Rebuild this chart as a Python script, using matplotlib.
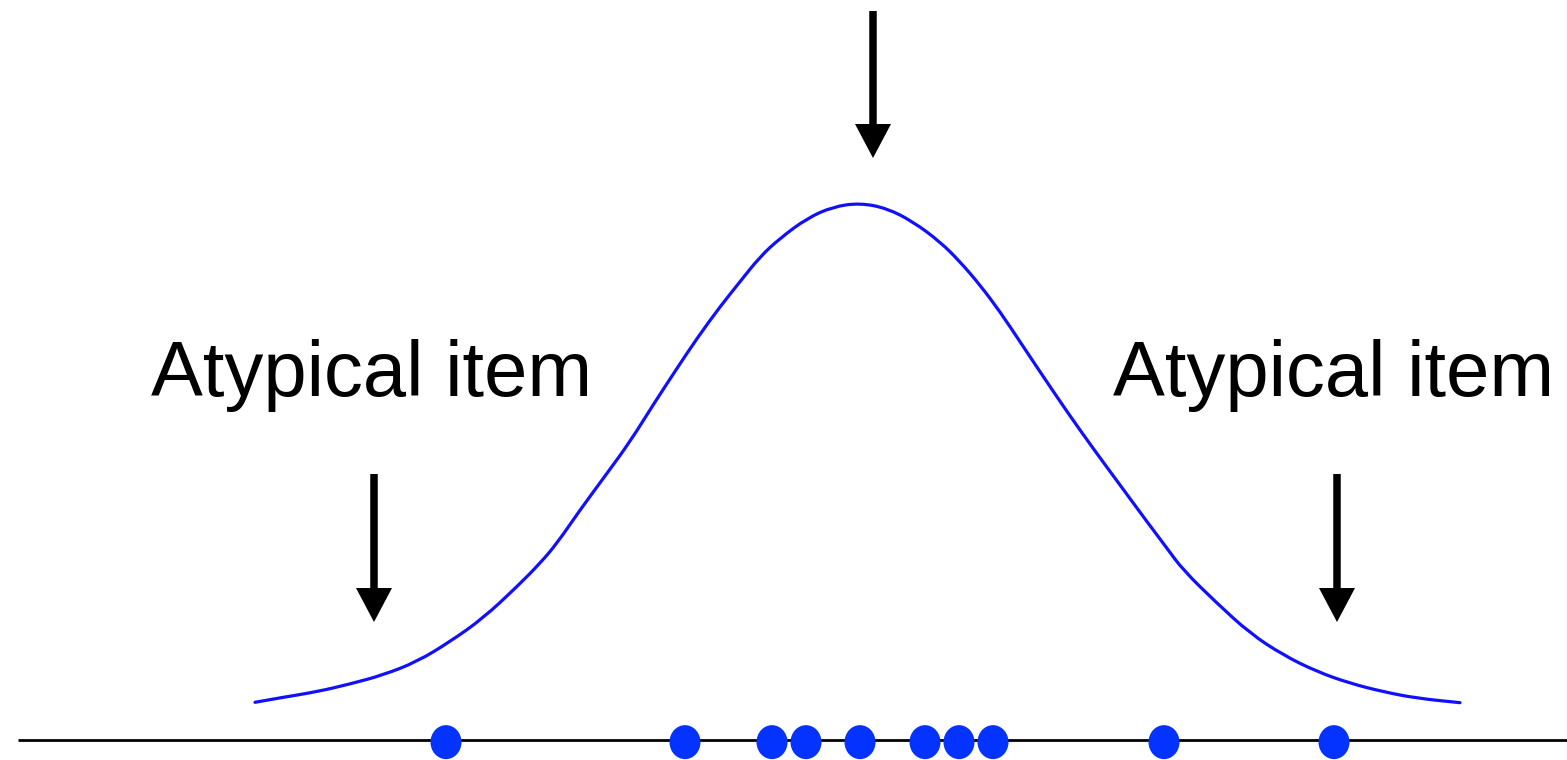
import matplotlib
matplotlib.use('Agg')
import matplotlib.pyplot as plt
from matplotlib.patches import Ellipse, FancyArrow, PathPatch
from matplotlib.path import Path

# --- DATA ---
# item positions along the axis (x units)
items_x = [4.46, 6.85, 7.72, 8.06, 8.60, 9.25, 9.59, 9.93, 11.64, 13.34]
items_y = [-0.004] * len(items_x)

# density curve (height relative to the peak)
curve_x = [2.55, 2.83, 3.17, 3.50, 3.83, 4.17, 4.50, 4.83, 5.17, 5.40,
           5.57, 5.80, 6.07, 6.30, 6.53, 6.77, 6.97, 7.20, 7.40, 7.60,
           7.80, 8.07, 8.33, 8.60, 8.87, 9.13, 9.40, 9.60, 9.80, 10.00,
           10.20, 10.40, 10.67, 10.93, 11.20, 11.47, 11.67, 11.83, 12.17, 12.50,
           12.83, 13.17, 13.50, 13.83, 14.17, 14.60]
curve_y = [0.0702, 0.0795, 0.0899, 0.1043, 0.1210, 0.1458, 0.1831, 0.2266, 0.2855, 0.3290,
           0.3663, 0.4283, 0.4966, 0.5555, 0.6238, 0.6922, 0.7480, 0.8069, 0.8534, 0.9000,
           0.9343, 0.9715, 0.9931, 1.0000, 0.9901, 0.9652, 0.9279, 0.8907, 0.8473, 0.7976,
           0.7417, 0.6858, 0.6114, 0.5432, 0.4749, 0.4065, 0.3570, 0.3166, 0.2546, 0.1987,
           0.1583, 0.1272, 0.1056, 0.0899, 0.0777, 0.0695]

# arrows: (x, tail y, tip y)
arrow_x = [8.73, 3.74, 13.37]
arrow_tail = [1.3575, 0.4953, 0.4953]
arrow_tip = [1.0838, 0.2197, 0.2197]

labels = ['Atypical item', 'Atypical item']
label_x = [3.715, 13.335]
label_y = [0.6406, 0.6406]

AXIS_START, AXIS_END = 0.18, 15.67

# --- PLOT ---
fig = plt.figure(figsize=(15.67, 7.6), dpi=100)
ax = fig.add_axes([0, 0, 1, 1])
ax.set_xlim(0, 15.67)
ax.set_ylim(-20 / 537, 740 / 537)
ax.axis('off')

# baseline
ax.hlines(0, AXIS_START, AXIS_END, color='black', lw=2.0, zorder=1)

# curve: read points used as quadratic bezier controls so it renders smooth
pts = list(zip(curve_x, curve_y))
verts = [pts[0]]
codes = [Path.MOVETO]
for i in range(1, len(pts) - 1):
    mid = ((pts[i][0] + pts[i + 1][0]) / 2, (pts[i][1] + pts[i + 1][1]) / 2)
    verts += [pts[i], mid]
    codes += [Path.CURVE3, Path.CURVE3]
verts.append(pts[-1])
codes.append(Path.LINETO)
ax.add_patch(PathPatch(Path(verts, codes), facecolor='none', edgecolor='#1010ff',
                       lw=2.3, capstyle='round', joinstyle='round', zorder=2))

# items
for x, y in zip(items_x, items_y):
    ax.add_patch(Ellipse((x, y), 0.31, 34 / 537, facecolor='#0433ff',
                         edgecolor='none', zorder=3))

# arrows
for x, t0, t1 in zip(arrow_x, arrow_tail, arrow_tip):
    ax.add_patch(FancyArrow(x, t0, 0, t1 - t0, width=0.075, head_width=0.36,
                            head_length=34 / 537, length_includes_head=True,
                            color='black', lw=0, zorder=4))

# labels
for s, x, y in zip(labels, label_x, label_y):
    ax.text(x, y, s, ha='center', va='baseline', fontsize=56,
            family=['Liberation Sans', 'DejaVu Sans'], color='black')

fig.savefig('out.png', dpi=100)
